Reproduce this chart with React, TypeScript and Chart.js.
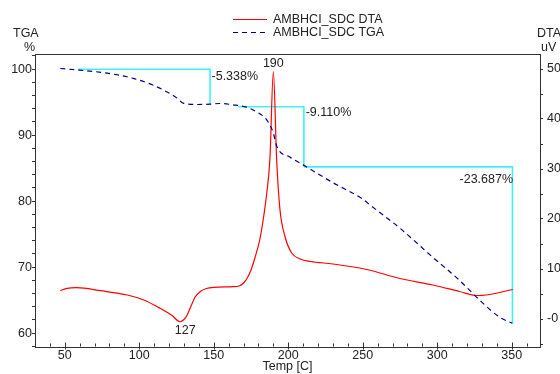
import React, { useEffect, useRef } from 'react';
import { Chart, registerables } from 'chart.js';

Chart.register(...registerables);

// ---- Data ----
const seriesNames = ['AMBHCI_SDC DTA', 'AMBHCI_SDC TGA'];

const dtaTemps = [47, 51.5, 58, 74, 92, 103, 114, 122, 127.5, 130, 132, 134.5, 137.5, 141, 145, 150, 163, 167, 170, 172.5, 175, 177.7, 181, 183, 185.5, 187.7, 190, 192.2, 194.4, 197.8, 202.3, 208, 215, 230, 252.8, 275, 297, 315, 326.5, 333, 350.7];
const dtaValues = [5.66, 6.14, 6.26, 5.66, 4.8, 3.8, 2.14, 0.7, -0.55, -0.1, 0.7, 2.4, 4.4, 5.5, 6.1, 6.34, 6.46, 6.6, 7.2, 8.2, 9.8, 12.3, 16, 19.5, 25, 32, 49.5, 32, 22, 16.5, 13.2, 12, 11.5, 11, 9.9, 8.1, 6.8, 5.5, 4.7, 4.8, 5.9];

const tgaTemps = [47, 60, 78.5, 96, 109, 119, 125.5, 129.5, 139, 147.5, 154, 163, 172, 179, 184.5, 188.5, 190, 192.5, 201, 210, 230, 250, 255, 275, 297, 315, 328.5, 342, 350.5];
const tgaValues = [100.1, 99.85, 99.4, 98.6, 97.6, 96.5, 95.6, 94.85, 94.65, 94.7, 94.8, 94.6, 94.24, 93.5, 92.6, 91.2, 90.3, 88.2, 86.7, 85.5, 82.8, 80.3, 79.4, 75.9, 71.5, 68, 65, 62.4, 61.5];

const step1Temps = [59, 147.5, 147.5];
const step1Values = [100, 100, 94.66];
const step2Temps = [166.5, 210.5, 210.5];
const step2Values = [94.3, 94.3, 85.2];
const step3Temps = [210.5, 350.5, 350.5];
const step3Values = [85.2, 85.2, 61.5];

const stepLabelTexts = ['-5.338%', '-9.110%', '-23.687%'];
const stepLabelTemps = [148.5, 211.7, 350.9];
const stepLabelValues = [98.83, 93.44, 83.3];
const stepLabelAligns = ['left', 'left', 'right'];

const peakLabelTexts = ['190', '127'];
const peakLabelTemps = [190, 130.8];
const peakLabelValues = [51.1, -2.4];

const xMin = 30, xMax = 369;
const tgaMin = 57.9, tgaMax = 102.3;
const dtaMin = -5.6, dtaMax = 53;

const FONT = '"Liberation Sans", Arial, sans-serif';
const TEXT = '#222';
const AXIS = '#333';

const toXY = (xs: number[], ys: number[]) => xs.map((x, i) => ({ x, y: ys[i] }));

const decorPlugin = {
  id: 'decor',
  afterDraw(chart: any) {
    const { ctx, chartArea, scales } = chart;
    const xs = scales.x, yl = scales.y, yr = scales.y1;
    ctx.save();
    // top border
    ctx.strokeStyle = AXIS;
    ctx.lineWidth = 1;
    ctx.beginPath();
    const top = Math.round(chartArea.top) + 0.5;
    ctx.moveTo(chartArea.left, top);
    ctx.lineTo(chartArea.right, top);
    ctx.stroke();
    // inward x ticks
    ctx.beginPath();
    const bot = Math.round(chartArea.bottom) - 0.5;
    xs.ticks.forEach((t: any) => {
      const px = Math.round(xs.getPixelForValue(t.value)) + 0.5;
      const major = Math.round(t.value) % 50 === 0;
      ctx.moveTo(px, bot + (major ? 3 : 0));
      ctx.lineTo(px, bot - (major ? 4 : 3));
    });
    ctx.stroke();

    ctx.fillStyle = TEXT;
    ctx.font = `12.5px ${FONT}`;
    ctx.textBaseline = 'middle';
    // step labels
    stepLabelTexts.forEach((s, i) => {
      ctx.textAlign = stepLabelAligns[i] as CanvasTextAlign;
      ctx.fillText(s, xs.getPixelForValue(stepLabelTemps[i]), yl.getPixelForValue(stepLabelValues[i]));
    });
    // peak labels
    ctx.textAlign = 'center';
    peakLabelTexts.forEach((s, i) => {
      ctx.fillText(s, xs.getPixelForValue(peakLabelTemps[i]), yr.getPixelForValue(peakLabelValues[i]));
    });
    // axis titles
    ctx.fillText('Temp [C]', (chartArea.left + chartArea.right) / 2, 367);
    ctx.textAlign = 'left';
    ctx.fillText('TGA', 13, 34);
    ctx.fillText('%', 24, 48);
    ctx.fillText('DTA', 537, 34);
    ctx.fillText('uV', 541, 48);
    // legend
    ctx.fillText(seriesNames[0], 273, 20);
    ctx.fillText(seriesNames[1], 273, 32.5);
    ctx.lineWidth = 1.2;
    ctx.strokeStyle = '#ff0000';
    ctx.beginPath();
    ctx.moveTo(233, 19.5);
    ctx.lineTo(267, 19.5);
    ctx.stroke();
    ctx.strokeStyle = '#000080';
    ctx.setLineDash([5, 4]);
    ctx.beginPath();
    ctx.moveTo(233, 32.5);
    ctx.lineTo(267, 32.5);
    ctx.stroke();
    ctx.restore();
  },
};

export default function App() {
  const ref = useRef<HTMLCanvasElement | null>(null);
  useEffect(() => {
    if (!ref.current) return;
    const cyan = '#3ff2f2';
    const chart = new Chart(ref.current, {
      type: 'line',
      data: {
        datasets: [
          {
            label: seriesNames[0],
            data: toXY(dtaTemps, dtaValues),
            yAxisID: 'y1',
            borderColor: '#ff0000',
            borderWidth: 1.2,
            pointRadius: 0,
            cubicInterpolationMode: 'monotone',
            order: 1,
          },
          {
            label: seriesNames[1],
            data: toXY(tgaTemps, tgaValues),
            yAxisID: 'y',
            borderColor: '#000080',
            borderWidth: 1.2,
            borderDash: [5, 4],
            pointRadius: 0,
            cubicInterpolationMode: 'monotone',
            order: 0,
          },
          ...[
            [step1Temps, step1Values],
            [step2Temps, step2Values],
            [step3Temps, step3Values],
          ].map(([t, v]) => ({
            label: 'step',
            data: toXY(t, v),
            yAxisID: 'y',
            borderColor: cyan,
            borderWidth: 1.6,
            pointRadius: 0,
            tension: 0,
            order: 5,
          })),
        ],
      },
      options: {
        animation: false,
        responsive: false,
        devicePixelRatio: 1,
        layout: { padding: { top: 54, left: 0, right: 0, bottom: 0 } },
        plugins: { legend: { display: false }, tooltip: { enabled: false } },
        scales: {
          x: {
            type: 'linear',
            min: xMin,
            max: xMax,
            afterFit: (s: any) => { s.height = 27; },
            border: { display: true, color: AXIS, width: 1 },
            grid: { display: true, drawOnChartArea: false, drawTicks: false },
            ticks: {
              stepSize: 10,
              autoSkip: false,
              maxRotation: 0,
              includeBounds: false,
              padding: 1,
              color: TEXT,
              font: { family: FONT, size: 12.5 },
              callback: (v: any) => (Math.round(v) % 50 === 0 ? String(Math.round(v)) : ''),
            },
          },
          y: {
            type: 'linear',
            position: 'left',
            min: tgaMin,
            max: tgaMax,
            afterFit: (s: any) => { s.width = 35; },
            border: { display: true, color: AXIS, width: 1 },
            grid: { display: true, drawOnChartArea: false, drawTicks: true, tickLength: 3, tickColor: AXIS },
            ticks: {
              stepSize: 2,
              autoSkip: false,
              includeBounds: false,
              padding: 0,
              color: TEXT,
              font: { family: FONT, size: 12.5 },
              callback: (v: any) => (Math.round(v) % 10 === 0 ? String(Math.round(v)) : ''),
            },
          },
          y1: {
            type: 'linear',
            position: 'right',
            min: dtaMin,
            max: dtaMax,
            afterFit: (s: any) => { s.width = 20; },
            border: { display: true, color: AXIS, width: 1 },
            grid: { display: true, drawOnChartArea: false, drawTicks: true, tickLength: 3, tickColor: AXIS },
            ticks: {
              stepSize: 5,
              autoSkip: false,
              includeBounds: false,
              padding: 4,
              color: TEXT,
              font: { family: FONT, size: 12.5 },
              callback: (v: any) => {
                const r = Math.round(v);
                if (r % 10 !== 0) return '';
                return r === 0 ? '-0' : String(r);
              },
            },
          },
        },
      } as any,
      plugins: [decorPlugin],
    });
    return () => chart.destroy();
  }, []);
  return (
    <div style={{ position: 'absolute', left: 0, top: 0, width: 560, height: 374, background: '#fff' }}>
      <canvas ref={ref} width={560} height={374} style={{ display: 'block', width: 560, height: 374 }} />
    </div>
  );
}
